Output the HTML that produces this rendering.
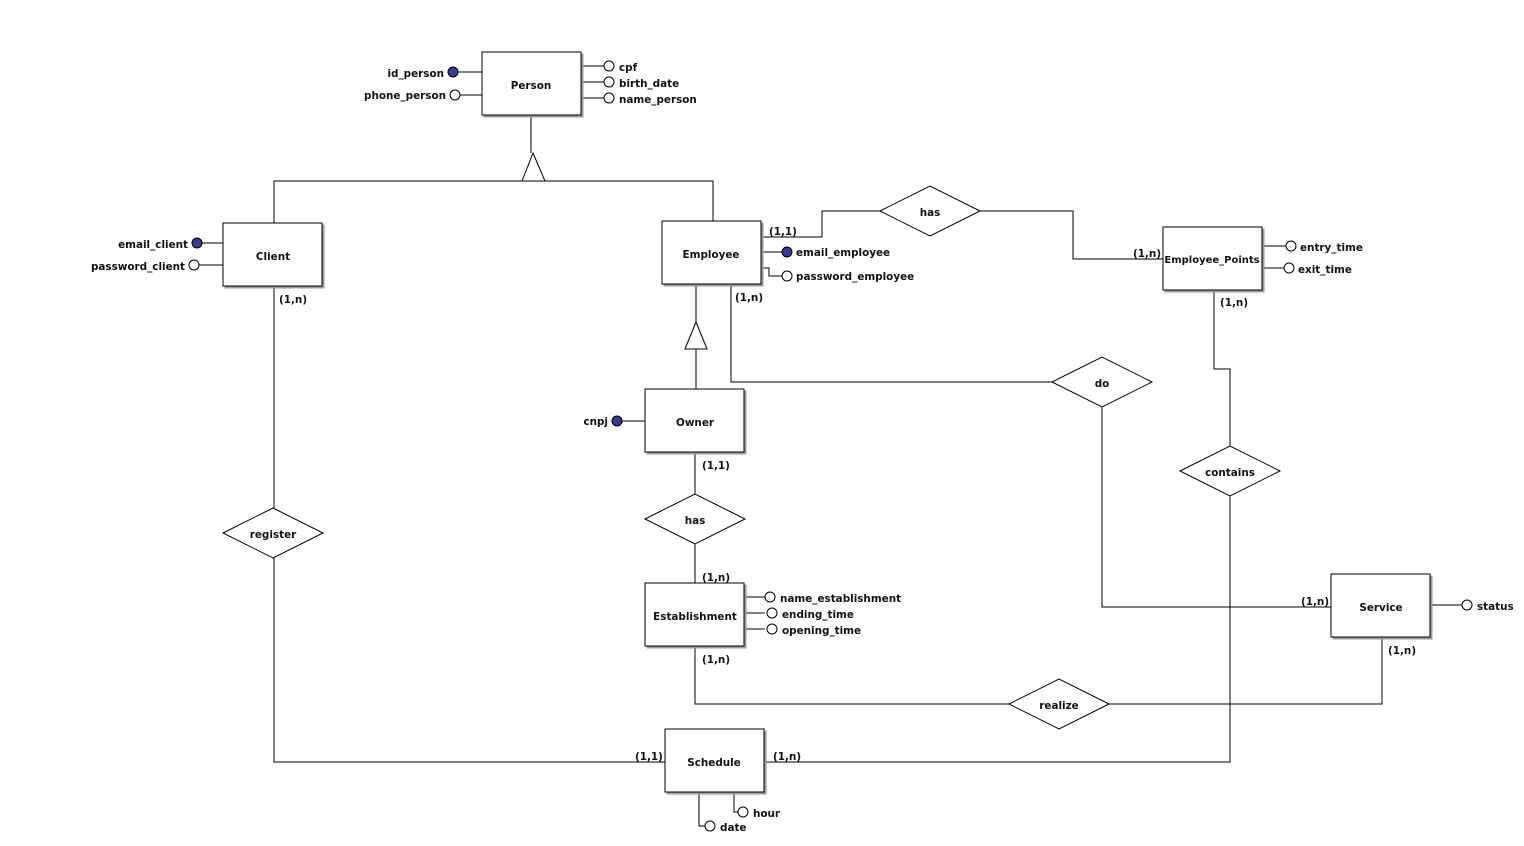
<!DOCTYPE html>
<html><head><meta charset="utf-8"><style>
body{margin:0;background:#fff}
svg text{font-family:"DejaVu Sans","Liberation Sans",sans-serif;font-weight:bold;font-size:10.4px;fill:#111}
</style></head><body>
<svg width="1524" height="841" viewBox="0 0 1524 841" xmlns="http://www.w3.org/2000/svg">
<defs><filter id="sh" x="-5%" y="-5%" width="115%" height="115%"><feDropShadow dx="2" dy="2" stdDeviation="0.6" flood-color="#999"/></filter></defs>
<g stroke="#000" stroke-width="1" fill="none">
<path d="M531 115V153M274 223V181H713V221"/>
<path d="M522 181L533 153L545 181Z" fill="#fff"/>
<path d="M696 284V322M696 349V389"/>
<path d="M685 349L696 322L707 349Z" fill="#fff"/>
<path d="M761 237H822V211H880M980 211H1073V259H1163"/>
<path d="M731 284V382H1052M1102 407V607H1331"/>
<path d="M1214 290V369H1230V446M1230 496V762H764"/>
<path d="M274 286V508M274 558V762H665"/>
<path d="M695 452V494M695 544V583"/>
<path d="M695 646V704H1009M1109 704H1382V637"/>
<path d="M458 72H482M460 95H482M581 66H604M581 82H604M581 98H604"/>
<path d="M202 243H223M199 265H223"/>
<path d="M761 252H782M761 268H769V276H782"/>
<path d="M1262 246H1286M1262 268H1284"/>
<path d="M622 421H645"/>
<path d="M744 597H765M744 613H765M744 629H765"/>
<path d="M1430 605H1462"/>
<path d="M734 792V812H738M699 792V826H705"/>
</g>
<g stroke="#000" fill="#fff" filter="url(#sh)">
<rect x="482" y="52" width="99" height="63"/>
<rect x="223" y="223" width="99" height="63"/>
<rect x="662" y="221" width="99" height="63"/>
<rect x="1163" y="227" width="99" height="63"/>
<rect x="645" y="389" width="99" height="63"/>
<rect x="645" y="583" width="99" height="63"/>
<rect x="1331" y="574" width="99" height="63"/>
<rect x="665" y="729" width="99" height="63"/>
</g>
<g stroke="#000" fill="#fff">
<path d="M880 211L930 186L980 211L930 236Z"/>
<path d="M1052 382L1102 357L1152 382L1102 407Z"/>
<path d="M1180 471L1230 446L1280 471L1230 496Z"/>
<path d="M223 533L273 508L323 533L273 558Z"/>
<path d="M645 519L695 494L745 519L695 544Z"/>
<path d="M1009 704L1059 679L1109 704L1059 729Z"/>
</g>
<g stroke="#000" fill="#fff">
<circle cx="609" cy="66" r="5"/><circle cx="609" cy="82" r="5"/><circle cx="609" cy="98" r="5"/>
<circle cx="455" cy="95" r="5"/>
<circle cx="194" cy="265" r="5"/>
<circle cx="787" cy="276" r="5"/>
<circle cx="1291" cy="246" r="5"/><circle cx="1289" cy="268" r="5"/>
<circle cx="770" cy="597" r="5"/><circle cx="772" cy="613" r="5"/><circle cx="772" cy="629" r="5"/>
<circle cx="1467" cy="605" r="5"/>
<circle cx="743" cy="812" r="5"/><circle cx="710" cy="826" r="5"/>
</g>
<g stroke="#000" fill="#3a3a8c">
<circle cx="453" cy="72" r="5"/>
<circle cx="197" cy="243" r="5"/>
<circle cx="787" cy="252" r="5"/>
<circle cx="617" cy="421" r="5"/>
</g>
<g text-anchor="middle">
<text x="531" y="89">Person</text>
<text x="273" y="260">Client</text>
<text x="711" y="258">Employee</text>
<text x="1212" y="263" style="font-size:10px">Employee_Points</text>
<text x="695" y="426">Owner</text>
<text x="695" y="620">Establishment</text>
<text x="1381" y="611">Service</text>
<text x="714" y="766">Schedule</text>
<text x="930" y="216">has</text>
<text x="1102" y="387">do</text>
<text x="1230" y="476">contains</text>
<text x="273" y="538">register</text>
<text x="695" y="524">has</text>
<text x="1059" y="709">realize</text>
</g>
<g text-anchor="end">
<text x="444" y="77">id_person</text>
<text x="446" y="99">phone_person</text>
<text x="188" y="248">email_client</text>
<text x="185" y="270">password_client</text>
<text x="608" y="425">cnpj</text>
</g>
<text x="619" y="71">cpf</text>
<text x="619" y="87">birth_date</text>
<text x="619" y="103">name_person</text>
<text x="796" y="256">email_employee</text>
<text x="796" y="280">password_employee</text>
<text x="1300" y="251">entry_time</text>
<text x="1298" y="273">exit_time</text>
<text x="780" y="602">name_establishment</text>
<text x="782" y="618">ending_time</text>
<text x="782" y="634">opening_time</text>
<text x="1477" y="610">status</text>
<text x="753" y="817">hour</text>
<text x="720" y="831">date</text>
<text x="279" y="303">(1,n)</text>
<text x="769" y="235">(1,1)</text>
<text x="735" y="301">(1,n)</text>
<text x="1133" y="257">(1,n)</text>
<text x="1220" y="306">(1,n)</text>
<text x="702" y="469">(1,1)</text>
<text x="702" y="581">(1,n)</text>
<text x="702" y="663">(1,n)</text>
<text x="1301" y="605">(1,n)</text>
<text x="1388" y="654">(1,n)</text>
<text x="635" y="760">(1,1)</text>
<text x="773" y="760">(1,n)</text>
</svg>
</body></html>
